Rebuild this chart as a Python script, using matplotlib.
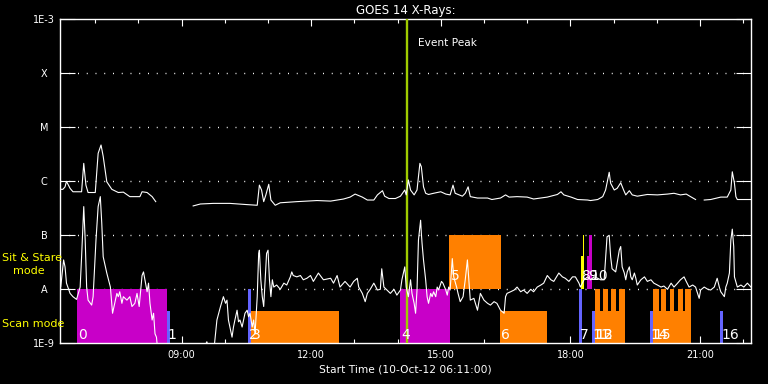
import numpy as np
import matplotlib.pyplot as plt
from matplotlib.ticker import FixedLocator, NullLocator

START_LABEL = "10-Oct-12 06:11:00"
START_MIN = 6 * 60 + 11          # plot start, minutes of day
SPAN_MIN = 960                   # 16 hours shown
EVENT_PEAK = 482                 # minutes after start

nan = np.nan

# GOES 14 long channel (1-8 A): minutes after start, flux W/m^2 (nan = gap)
long_t = [0, 4, 7, 9, 14, 18, 30, 33, 36, 39, 49, 53, 57, 60, 65, 72, 81, 88,
          97, 111, 114, 121, 128, 133, nan,
          185, 195, 213, 236, 260, 274, 277, 280, 283, 286, 290, 293, 299, 306,
          329, 357, 376, 394, 403, 410, 420, 427, 436, 441, 448, 451, 457, 466,
          473, 479, 481, 484, 487, 492, 496, 500, 502, 503, 505, 508, 512, 519,
          529, 536, 542, 546, 549, 559, 563, 567, 570, 580, 594, 600, 612, 619,
          624, 635, 649, 658, 677, 691, 696, 700, 710, 719, 733, 737, 747, 754,
          758, 763, 765, 770, 774, 779, 783, 786, 791, 795, 802, 816, 830, 844,
          853, 862, 870, 876, 883, nan,
          895, 904, 918, 927, 932, 934, 937, 939, 941, 960]
long_f = [7.1e-7, 7.1e-7, 7.9e-7, 1.0e-6, 7.4e-7, 6.4e-7, 6.4e-7, 2.15e-6, 8.5e-7,
          6.2e-7, 6.2e-7, 3.3e-6, 4.7e-6, 2.9e-6, 9.8e-7, 7.1e-7, 6.2e-7, 6.3e-7,
          5.2e-7, 5.2e-7, 6.4e-7, 6.2e-7, 5.2e-7, 4.2e-7, nan,
          3.5e-7, 3.8e-7, 3.9e-7, 3.9e-7, 3.7e-7, 3.6e-7, 8.5e-7, 6.9e-7, 4.2e-7,
          5.6e-7, 8.8e-7, 4.5e-7, 3.6e-7, 4.0e-7, 4.2e-7, 4.4e-7, 4.3e-7, 4.7e-7,
          5.1e-7, 5.8e-7, 5.1e-7, 4.5e-7, 4.5e-7, 5.6e-7, 6.7e-7, 5.3e-7, 4.8e-7,
          4.8e-7, 5.3e-7, 6.9e-7, 5.6e-7, 1.06e-6, 6.9e-7, 5.6e-7, 6.9e-7, 2.15e-6,
          1.86e-6, 1.4e-6, 7.9e-7, 6.0e-7, 5.7e-7, 6.0e-7, 6.4e-7, 5.8e-7, 5.6e-7,
          8.5e-7, 6.0e-7, 5.3e-7, 6.0e-7, 7.9e-7, 5.2e-7, 4.9e-7, 4.9e-7, 4.6e-7,
          4.9e-7, 5.6e-7, 5.1e-7, 5.2e-7, 5.1e-7, 4.7e-7, 5.1e-7, 5.7e-7, 6.4e-7,
          5.6e-7, 5.1e-7, 4.6e-7, 4.5e-7, 4.4e-7, 4.6e-7, 5.2e-7, 6.9e-7, 1.47e-6,
          9.2e-7, 6.9e-7, 7.4e-7, 9.4e-7, 6.9e-7, 5.6e-7, 6.7e-7, 5.6e-7, 5.3e-7,
          5.7e-7, 5.6e-7, 5.8e-7, 6.0e-7, 5.6e-7, 5.8e-7, 5.2e-7, 4.6e-7, nan,
          4.5e-7, 4.6e-7, 5.1e-7, 5.1e-7, 6.9e-7, 1.5e-6, 9.2e-7, 5.2e-7, 4.6e-7,
          4.6e-7]

# GOES 14 short channel (0.5-4 A)
short_t = [0, 1, 5, 7, 9, 14, 18, 23, 28, 30, 33, 35, 37, 39, 44, 46, 50, 53, 56,
           58, 60, 65, 70, 73, 76, 79, 81, 83, 86, 88, 93, 97, 100, 104, 107, 110,
           114, 116, 118, 121, 123, 125, 128, 130, 132, 134, 137, 200, 204, 207,
           214, 218, 223, 227, 230, 232, 234, 236, 239, 241, 243, 246, 248, 250,
           253, 257, 260, 262, 264, 267, 269, 271, 274, 276, 277, 279, 281, 283,
           285, 287, 289, 291, 293, 295, 297, 301, 306, 311, 315, 320, 322, 324,
           329, 334, 338, 343, 348, 352, 359, 366, 376, 380, 385, 389, 396, 403,
           408, 413, 415, 420, 424, 427, 431, 436, 441, 445, 447, 450, 459, 464,
           468, 473, 475, 479, 481, 484, 487, 489, 492, 494, 496, 498, 501, 502,
           503, 505, 508, 510, 512, 515, 517, 519, 522, 524, 526, 530, 532, 536,
           538, 540, 542, 545, 547, 551, 553, 556, 560, 563, 566, 568, 570, 575,
           580, 584, 589, 594, 598, 603, 607, 612, 617, 619, 621, 626, 631, 635,
           640, 644, 649, 654, 658, 663, 668, 672, 677, 682, 686, 693, 698, 702,
           707, 712, 716, 721, 723, 728, 733, 737, 742, 747, 751, 756, 760, 763,
           765, 767, 772, 777, 779, 781, 784, 786, 788, 791, 793, 795, 798, 800,
           802, 807, 812, 816, 821, 825, 830, 835, 839, 844, 849, 853, 858, 862,
           867, 870, 874, 879, 883, 888, 890, 895, 900, 904, 909, 913, 916, 918,
           923, 925, 927, 930, 932, 934, 936, 937, 941, 946, 950, 955, 960]
short_f = [1.1e-8, 1.1e-8, 3.5e-8, 2.6e-8, 1.3e-8, 8.4e-9, 7.3e-9, 6.5e-9, 1.1e-8,
           4.0e-8, 3.4e-7, 8.2e-8, 1.1e-8, 6.3e-9, 5.1e-9, 7.3e-9, 8.2e-8, 3.4e-7,
           5.2e-7, 1.7e-7, 4.0e-8, 2.0e-8, 1.1e-8, 3.6e-9, 5.5e-9, 8.4e-9, 7.3e-9,
           9.0e-9, 5.5e-9, 7.3e-9, 6.3e-9, 7.3e-9, 4.8e-9, 5.5e-9, 8.4e-9, 4.8e-9,
           1.8e-8, 2.1e-8, 1.5e-8, 9.0e-9, 1.3e-8, 5.5e-9, 2.7e-9, 3.6e-9, 1.5e-9,
           1.3e-9, 5e-10, 8e-10, 1.07e-9, 8e-10,
           8e-10, 2.7e-9, 4.8e-9, 7.3e-9, 5.5e-9, 6.3e-9, 2.7e-9, 2.0e-9, 1.3e-9,
           2.0e-9, 2.7e-9, 4.1e-9, 2.5e-9, 2.7e-9, 2.0e-9, 3.6e-9, 4.1e-9, 3.1e-9,
           3.6e-9, 2.0e-9, 2.7e-9, 1.5e-9, 7.3e-9, 4.6e-8, 5.3e-8, 1.5e-8, 7.3e-9,
           4.8e-9, 1.5e-8, 4.6e-8, 5.3e-8, 1.5e-8, 7.3e-9, 1.5e-8, 1.1e-8, 1.2e-8,
           1.0e-8, 1.3e-8, 1.2e-8, 1.7e-8, 2.1e-8, 1.8e-8, 1.7e-8, 1.8e-8, 1.5e-8,
           1.6e-8, 1.8e-8, 1.4e-8, 2.0e-8, 1.5e-8, 1.6e-8, 1.3e-8, 1.8e-8, 1.1e-8,
           1.4e-8, 1.1e-8, 1.4e-8, 1.6e-8, 1.1e-8, 8.4e-9, 5.9e-9, 8.4e-9, 1.0e-8,
           1.3e-8, 9.7e-9, 1.0e-8, 2.4e-8, 1.1e-8, 8.4e-9, 1.0e-8, 7.8e-9, 9.7e-9,
           1.5e-8, 2.6e-8, 1.1e-8, 7.3e-9, 1.5e-8, 8.4e-9, 5.5e-9, 3.6e-9, 9.7e-9,
           8.2e-8, 1.9e-7, 1.1e-7, 7.1e-8, 3.5e-8, 1.5e-8, 7.3e-9, 5.5e-9, 8.4e-9,
           7.3e-9, 9.0e-9, 7.3e-9, 1.1e-8, 9.7e-9, 1.4e-8, 1.3e-8, 9.7e-9, 7.8e-9,
           1.1e-8, 9.7e-9, 3.7e-8, 1.7e-8, 1.1e-8, 8.4e-9, 5.9e-9, 7.3e-9, 1.5e-8,
           3.5e-8, 1.5e-8, 6.3e-9, 6.8e-9, 4.1e-9, 8.4e-9, 6.3e-9, 5.5e-9, 5.1e-9,
           5.9e-9, 5.5e-9, 4.1e-9, 3.6e-9, 7.3e-9, 8.4e-9, 9.0e-9, 9.7e-9, 1.1e-8,
           9.0e-9, 9.7e-9, 8.4e-9, 1.0e-8, 9.0e-9, 1.1e-8, 1.2e-8, 1.3e-8, 1.8e-8,
           1.5e-8, 1.4e-8, 2.0e-8, 1.7e-8, 1.6e-8, 1.4e-8, 1.7e-8, 1.7e-8, 1.3e-8,
           1.1e-8, 1.5e-8, 1.7e-8, 1.5e-8, 1.7e-8, 1.6e-8, 1.5e-8, 1.5e-8, 9.4e-8,
           1.0e-7, 4.0e-8, 2.4e-8, 2.1e-8, 5.3e-8, 6.2e-8, 2.6e-8, 2.0e-8, 1.5e-8,
           2.1e-8, 2.6e-8, 1.7e-8, 1.5e-8, 2.0e-8, 1.6e-8, 1.2e-8, 1.5e-8, 1.7e-8,
           1.4e-8, 1.5e-8, 1.3e-8, 1.2e-8, 1.1e-8, 1.15e-8, 1.0e-8, 1.3e-8, 1.1e-8,
           1.3e-8, 1.5e-8, 1.7e-8, 1.4e-8, 1.1e-8, 1.2e-8, 1.1e-8, 6.8e-9, 9.7e-9,
           1.1e-8, 1.0e-8, 9.7e-9, 1.1e-8, 1.6e-8, 1.1e-8, 9.0e-9, 7.3e-9, 1.1e-8,
           1.3e-8, 2.0e-8, 8.2e-8, 1.3e-7, 6.2e-8, 1.7e-8, 1.1e-8, 1.2e-8, 1.1e-8,
           1.3e-8, 1.1e-8]

# observation bars: label, start, end (minutes after start), bottom/top flux, type
obs_label = ["0", "1", "2", "3", "4", "5", "6", "7", "8", "", "9", "10", "11",
             "12", "13", "", "", "", "14", "15", "", "", "", "", "", "16"]
obs_t0 = [23, 148, 261.5, 265, 472, 541, 611, 720.5, 723.5, 726, 732.5, 735,
          738.5, 743, 743, 754, 765, 776, 819, 823.5, 823.5, 835.5, 847, 858,
          869, 917]
obs_t1 = [148, 153, 265, 388, 542.5, 612, 677, 725, 727.5, 727.5, 738.5, 738.5,
          743, 784.5, 750, 761.5, 772.5, 784.5, 823.5, 876.5, 831.5, 842.5,
          853.5, 865, 876.5, 921]
obs_lo = [1e-9, 1e-9, 1e-9, 1e-9, 1e-9, 1e-8, 1e-9, 1e-9, 1e-8, 1e-8, 1e-8,
          1e-8, 1e-9, 1e-9, 4e-9, 4e-9, 4e-9, 4e-9, 1e-9, 1e-9, 4e-9, 4e-9,
          4e-9, 4e-9, 4e-9, 1e-9]
obs_hi = [1e-8, 4e-9, 1e-8, 4e-9, 1e-8, 1e-7, 4e-9, 1e-8, 4.1e-8, 1e-7, 4.1e-8,
          1e-7, 4e-9, 4e-9, 1e-8, 1e-8, 1e-8, 1e-8, 4e-9, 4e-9, 1e-8, 1e-8,
          1e-8, 1e-8, 1e-8, 4e-9]
obs_type = ["m", "b", "b", "o", "m", "o", "o", "b", "y", "y", "m", "m", "b",
            "o", "o", "o", "o", "o", "b", "o", "o", "o", "o", "o", "o", "b"]

colors = {"m": "#c800c8", "b": "#6464ff", "o": "#ff8000", "y": "#ffff00"}

W, H = 768, 384
fig = plt.figure(figsize=(W / 100, H / 100), dpi=100, facecolor="black")
ax = fig.add_axes([60 / W, 1 - 343.3 / H, 691 / W, 324 / H], facecolor="black")
ax.set_yscale("log")
ax.set_xlim(0, SPAN_MIN)
ax.set_ylim(1e-9, 1e-3)

# flare class levels
for lev in [1e-8, 1e-7, 1e-6, 1e-5, 1e-4]:
    ax.axhline(lev, color="white", lw=1.0, ls=(0, (0.7, 5.6)), zorder=1)

for lab, t0, t1, lo, hi, k in zip(obs_label, obs_t0, obs_t1, obs_lo, obs_hi, obs_type):
    ax.bar(t0, hi - lo, width=t1 - t0, bottom=lo, align="edge",
           color=colors[k], linewidth=0, zorder=2)
    if lab:
        # scan-mode bars are labelled near the bottom, sit & stare ones above A
        ybase = 1.2e-9 if lo < 5e-9 else 1.5e-8
        ax.text(t0 + 1.5, ybase, lab, color="white", fontsize=10,
                va="baseline", ha="left", zorder=5)

ax.axvline(EVENT_PEAK, color="#a0cc00", lw=1.7, zorder=3)
ax.text(497, 3.6e-4, "Event Peak", color="white", fontsize=7.6,
        va="center", ha="left")

ax.plot(long_t, long_f, color="white", lw=0.8, zorder=4)
ax.plot(short_t, short_f, color="white", lw=0.8, zorder=4)

# axes styling
for s in ax.spines.values():
    s.set_color("white")
    s.set_linewidth(1)

ax.yaxis.set_major_locator(FixedLocator([1e-9, 1e-8, 1e-7, 1e-6, 1e-5, 1e-4, 1e-3]))
ax.yaxis.set_minor_locator(NullLocator())
ax.set_yticklabels(["1E-9", "A", "B", "C", "M", "X", "1E-3"])
ax.tick_params(axis="y", which="major", direction="in", length=10.5, width=0.8,
               left=True, right=True, color="white", labelcolor="white",
               labelsize=7, pad=11.5)
for lab in ax.get_yticklabels():
    lab.set_horizontalalignment("center")

hours = list(range(7, 23))
hour_pos = [h * 60 - START_MIN for h in hours]
major_h = [h for h in hours if h % 3 == 0]
ax.xaxis.set_major_locator(FixedLocator([h * 60 - START_MIN for h in major_h]))
ax.xaxis.set_minor_locator(FixedLocator(hour_pos))
ax.set_xticklabels([f"{h:02d}:00" for h in major_h])
ax.tick_params(axis="x", which="major", direction="in", length=5, width=0.8,
               top=True, bottom=True, color="white", labelcolor="white",
               labelsize=7, pad=5)
ax.tick_params(axis="x", which="minor", direction="in", length=3, width=0.8,
               top=True, bottom=True, color="white")

ax.set_title("GOES 14 X-Rays:", color="white", fontsize=8.5, pad=4)
ax.set_xlabel(f"Start Time ({START_LABEL})", color="white", fontsize=7.7,
              labelpad=3)

fig.text(2 / W, 1 - 258 / H, "Sit & Stare", color="yellow", fontsize=8,
         va="center", ha="left")
fig.text(13 / W, 1 - 271 / H, "mode", color="yellow", fontsize=8,
         va="center", ha="left")
fig.text(2 / W, 1 - 324 / H, "Scan mode", color="yellow", fontsize=8,
         va="center", ha="left")

fig.savefig("out.png", dpi=100, facecolor="black")
